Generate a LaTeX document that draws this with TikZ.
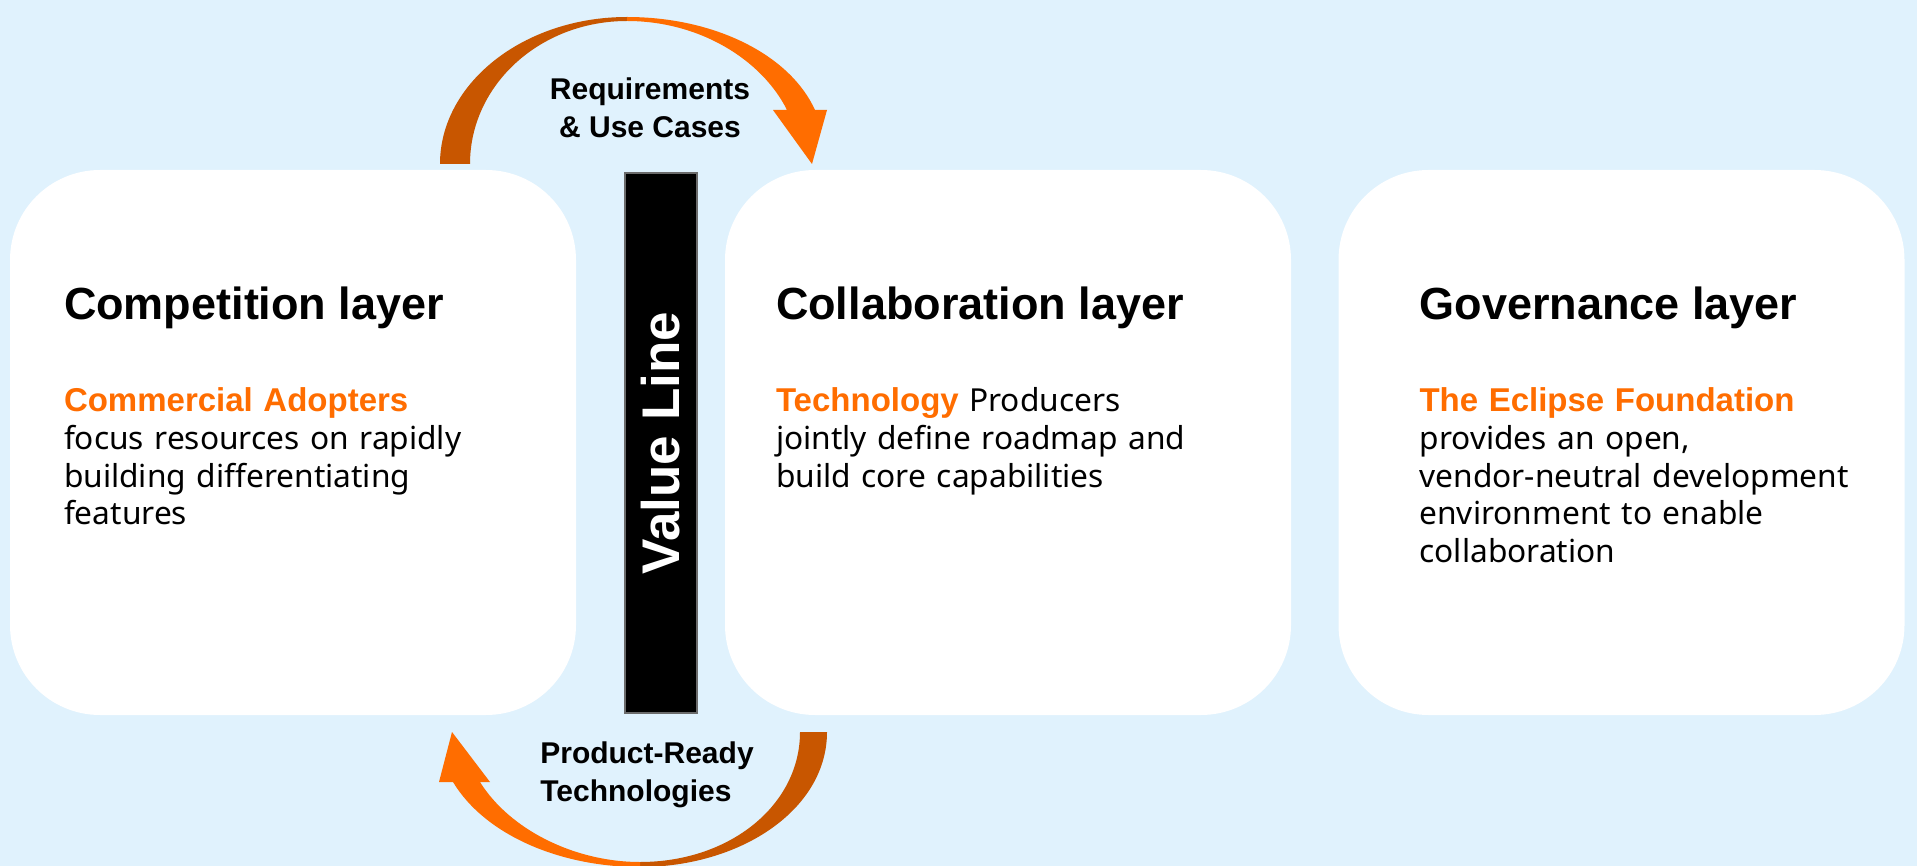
\documentclass[tikz,border=0pt]{standalone}
\usepackage{fontspec}
\setmainfont{Noto Sans}
\newfontfamily\headfont{Liberation Sans}
\usepackage{tikz}
\usetikzlibrary{positioning}
\definecolor{bgblue}{HTML}{E0F2FD}
\definecolor{hotorange}{HTML}{FF6D00}
\definecolor{darkorange}{HTML}{C85600}
\definecolor{barrim}{HTML}{6B6B6B}

\begin{document}
\begin{tikzpicture}[x=1pt,y=-1pt,
  layer/.style={fill=white, rounded corners=90pt, minimum width=566pt, minimum height=545pt, inner sep=0pt},
  title/.style={anchor=base west, inner sep=0pt, font=\headfont\bfseries\fontsize{45}{54}\selectfont},
  blurb/.style={anchor=base west, inner sep=0pt, text width=520pt, align=left, font=\fontsize{31.7}{37.7}\selectfont},
  flow/.style={inner sep=0pt, font=\headfont\bfseries\fontsize{30}{38}\selectfont}]
\fill[bgblue] (0,0) rectangle (1917,866);
\useasboundingbox (0,0) rectangle (1917,866);

% the three layers
\node[layer] (comp) at (293,442.5) {};
\node[layer] (collab) at (1008,442.5) {};
\node[layer] (gov) at (1621.5,442.5) {};

\node[title] (comp-title) at ([shift={(54,150)}]comp.north west) {Competition layer};
\node[blurb] (comp-text) at ([shift={(54,242)}]comp.north west)
  {{\headfont\bfseries\fontsize{33}{37.7}\selectfont\color{hotorange}Commercial Adopters}\\
   focus resources on rapidly\\ building differentiating\\ features};

\node[title] (collab-title) at ([shift={(51,150)}]collab.north west) {Collaboration layer};
\node[blurb] (collab-text) at ([shift={(51,242)}]collab.north west)
  {{\headfont\bfseries\fontsize{33}{37.7}\selectfont\color{hotorange}Technology} Producers\\
   jointly define roadmap and\\ build core capabilities};

\node[title] (gov-title) at ([shift={(81,150)}]gov.north west) {Governance layer};
\node[blurb] (gov-text) at ([shift={(81,242)}]gov.north west)
  {{\headfont\bfseries\fontsize{33}{37.7}\selectfont\color{hotorange}The Eclipse Foundation}\\
   provides an open,\\ vendor-neutral development\\ environment to enable\\ collaboration};

% value line
\node[fill=black, draw=barrim, line width=2pt, rotate=90, minimum width=540pt, minimum height=72pt,
  inner sep=0pt, text=white, font=\headfont\bfseries\fontsize{53}{60}\selectfont] (value) at (661,443) {Value Line};

% arrow over the top
\fill[darkorange] (440,164) .. controls (440,83) and (524,17) .. (627,17)
  -- (627,21) .. controls (540,21) and (470,85) .. (470,164) -- cycle;
\fill[hotorange] (627,17) .. controls (715,17) and (790,55) .. (815,110)
  -- (827,110) -- (812,164) -- (773,110) -- (787,110)
  .. controls (762,60) and (700,21) .. (627,21) -- cycle;
\node[flow, align=center] (needs) at (650,108) {Requirements\\ \& Use Cases};

% arrow underneath
\fill[darkorange] (827,732) .. controls (827,810) and (740,867) .. (640,867)
  -- (640,862) .. controls (730,862) and (800,805) .. (800,732) -- cycle;
\fill[hotorange] (640,867) .. controls (560,867) and (485,835) .. (453,782)
  -- (490,782) -- (452,732) -- (439,782) -- (480,782)
  .. controls (510,830) and (575,862) .. (640,862) -- cycle;
\node[flow, align=left] (ready) at (647,775) {Product-Ready\\ Technologies};
\end{tikzpicture}
\end{document}
